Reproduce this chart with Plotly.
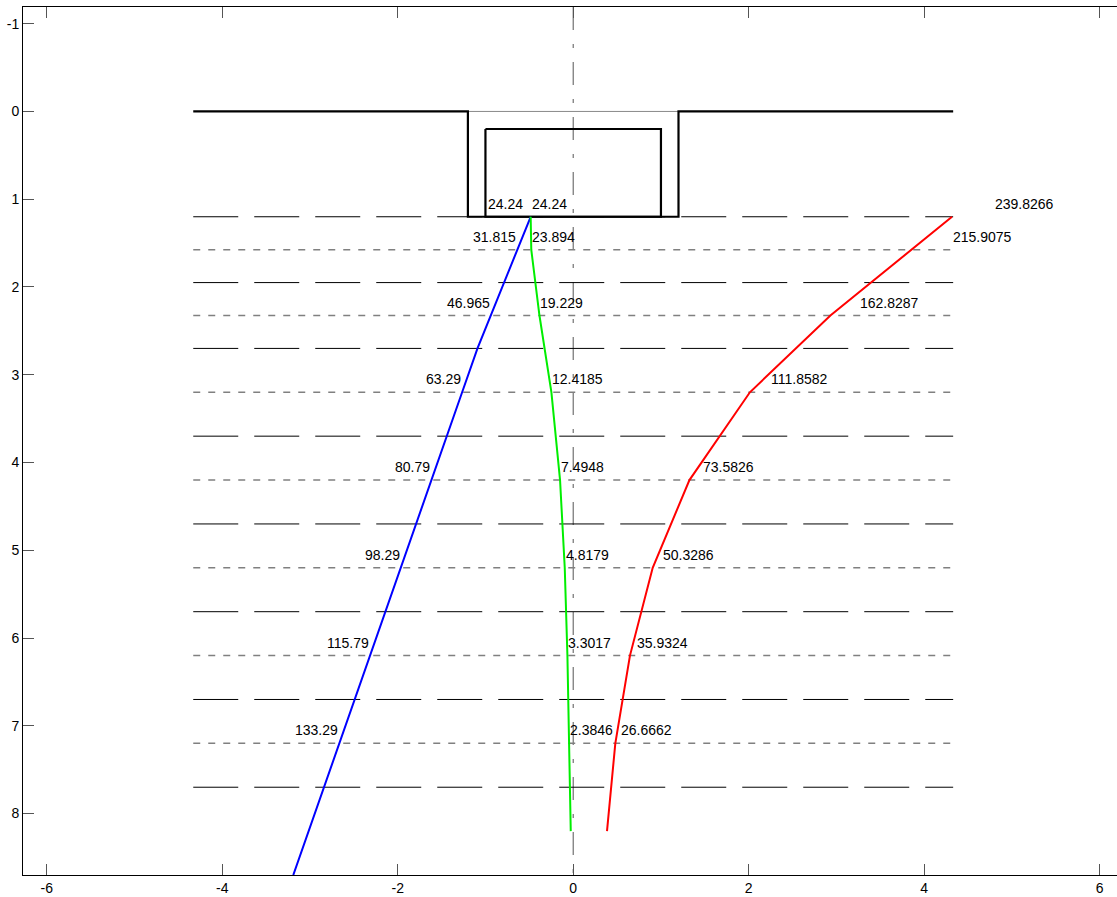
import plotly.graph_objects as go

# ---------------- data ----------------
# structure geometry (x, depth)
ground_left_x = [-4.33, -1.2, -1.2, 1.2, 1.2, 4.33]
ground_left_y = [0.0, 0.0, 1.2, 1.2, 0.0, 0.0]
box_top_x = [-1.2, 1.2]
box_top_y = [0.0, 0.0]
inner_x = [-1.0, 1.0, 1.0, -1.0, -1.0]
inner_y = [0.2, 0.2, 1.2, 1.2, 0.2]

line_extent = [-4.33, 4.33]
boundary_depths = [1.2, 1.95, 2.7, 3.7, 4.7, 5.7, 6.7, 7.7]
mid_depths = [1.575, 2.325, 3.2, 4.2, 5.2, 6.2, 7.2]

# blue series (plotted to the left)
blue_depth = [1.2, 1.575, 2.325, 2.7, 3.2, 4.2, 5.2, 6.2, 7.2, 8.7]
blue_val = [24.24, 31.815, 46.965, 54.54, 63.29, 80.79, 98.29, 115.79, 133.29, 159.5]
blue_label_depth = [1.2, 1.575, 2.325, 3.2, 4.2, 5.2, 6.2, 7.2]
blue_label_val = [24.24, 31.815, 46.965, 63.29, 80.79, 98.29, 115.79, 133.29]

# green series
green_depth = [1.2, 1.575, 2.325, 3.2, 4.2, 5.2, 6.2, 7.2, 8.2]
green_val = [24.24, 23.894, 19.229, 12.4185, 7.4948, 4.8179, 3.3017, 2.3846, 1.4]
green_label_depth = [1.2, 1.575, 2.325, 3.2, 4.2, 5.2, 6.2, 7.2]
green_label_val = [24.24, 23.894, 19.229, 12.4185, 7.4948, 4.8179, 3.3017, 2.3846]

# red series (plotted to the right)
red_depth = [1.2, 2.325, 3.2, 4.2, 5.2, 6.2, 7.2, 8.2]
red_val = [239.8266, 162.8287, 111.8582, 73.5826, 50.3286, 35.9324, 26.6662, 21.4]
red_label_depth = [1.2, 1.575, 2.325, 3.2, 4.2, 5.2, 6.2, 7.2]
red_label_val = [239.8266, 215.9075, 162.8287, 111.8582, 73.5826, 50.3286, 35.9324, 26.6662]

label_scale = 0.02
blue_scale = 0.02
green_scale = 0.02
red_scale = 0.018

x_ticks = [-6, -4, -2, 0, 2, 4, 6]
y_ticks = [-1, 0, 1, 2, 3, 4, 5, 6, 7, 8]
x_range = [-6.27, 6.197]
y_range = [8.70, -1.19]

FONT = "Liberation Sans, Arial, Helvetica, sans-serif"

fig = go.Figure()

# center dash-dot line
fig.add_trace(go.Scatter(x=[0, 0], y=[-1.19, 8.8], mode="lines",
                         line=dict(color="#555555", width=1, dash="23px,14px,4px,14px"),
                         hoverinfo="skip", showlegend=False))

# layer boundary long dashes
for d in boundary_depths:
    fig.add_trace(go.Scatter(x=line_extent, y=[d, d], mode="lines",
                             line=dict(color="black", width=1, dash="45px,16px"),
                             hoverinfo="skip", showlegend=False))
# mid-layer grey short dashes
for d in mid_depths:
    fig.add_trace(go.Scatter(x=line_extent, y=[d, d], mode="lines",
                             line=dict(color="#808080", width=1.5, dash="7px,8px"),
                             hoverinfo="skip", showlegend=False))

# box top thin line
fig.add_trace(go.Scatter(x=box_top_x, y=box_top_y, mode="lines",
                         line=dict(color="#888888", width=1),
                         hoverinfo="skip", showlegend=False))
# ground + outer box
fig.add_trace(go.Scatter(x=ground_left_x, y=ground_left_y, mode="lines",
                         line=dict(color="black", width=2.2),
                         hoverinfo="skip", showlegend=False))
# inner box
fig.add_trace(go.Scatter(x=inner_x, y=inner_y, mode="lines",
                         line=dict(color="black", width=2.2),
                         hoverinfo="skip", showlegend=False))

# series
fig.add_trace(go.Scatter(x=[-v * blue_scale for v in blue_val], y=blue_depth, mode="lines",
                         line=dict(color="#0000ff", width=2), showlegend=False))
fig.add_trace(go.Scatter(x=[-v * green_scale for v in green_val], y=green_depth, mode="lines",
                         line=dict(color="#00ee00", width=2), showlegend=False))
fig.add_trace(go.Scatter(x=[v * red_scale for v in red_val], y=red_depth, mode="lines",
                         line=dict(color="#ff0000", width=2), showlegend=False))

anns = []
def add_label(x, y, text, xanchor, xshift=0):
    anns.append(dict(x=x, y=y, xref="x", yref="y", text=text, showarrow=False,
                     xanchor=xanchor, yanchor="bottom", yshift=4, xshift=xshift,
                     borderpad=0, font=dict(family=FONT, size=14, color="black")))

for d, v in zip(blue_label_depth, blue_label_val):
    add_label(-v * blue_scale, d, str(v), "right", -7 if d == 1.2 else 0)
for d, v in zip(green_label_depth, green_label_val):
    add_label(-v * green_scale, d, str(v), "left")
for d, v in zip(red_label_depth, red_label_val):
    add_label(v * label_scale, d, str(v), "left")

fig.update_layout(
    width=1117, height=897,
    margin=dict(l=23, r=0, t=7, b=22),
    paper_bgcolor="white", plot_bgcolor="white",
    font=dict(family=FONT, size=14, color="black"),
    annotations=anns,
    xaxis=dict(range=x_range, tickvals=x_ticks, ticktext=[str(t) for t in x_ticks],
               ticks="inside", ticklen=11, tickcolor="#555555", tickwidth=1,
               showline=True, linecolor="black", linewidth=1, mirror="ticks",
               showgrid=False, zeroline=False, automargin=False,
               tickfont=dict(family=FONT, size=14, color="black")),
    yaxis=dict(range=y_range, tickvals=y_ticks, ticktext=[str(t) for t in y_ticks],
               ticks="inside", ticklen=11, tickcolor="#555555", tickwidth=1,
               showline=True, linecolor="black", linewidth=1, mirror=False,
               showgrid=False, zeroline=False, automargin=False,
               tickfont=dict(family=FONT, size=14, color="black")),
)

fig.write_html("out.html", config={"displayModeBar": False},
               post_script="document.body.style.margin='0';document.body.style.overflow='hidden';")
